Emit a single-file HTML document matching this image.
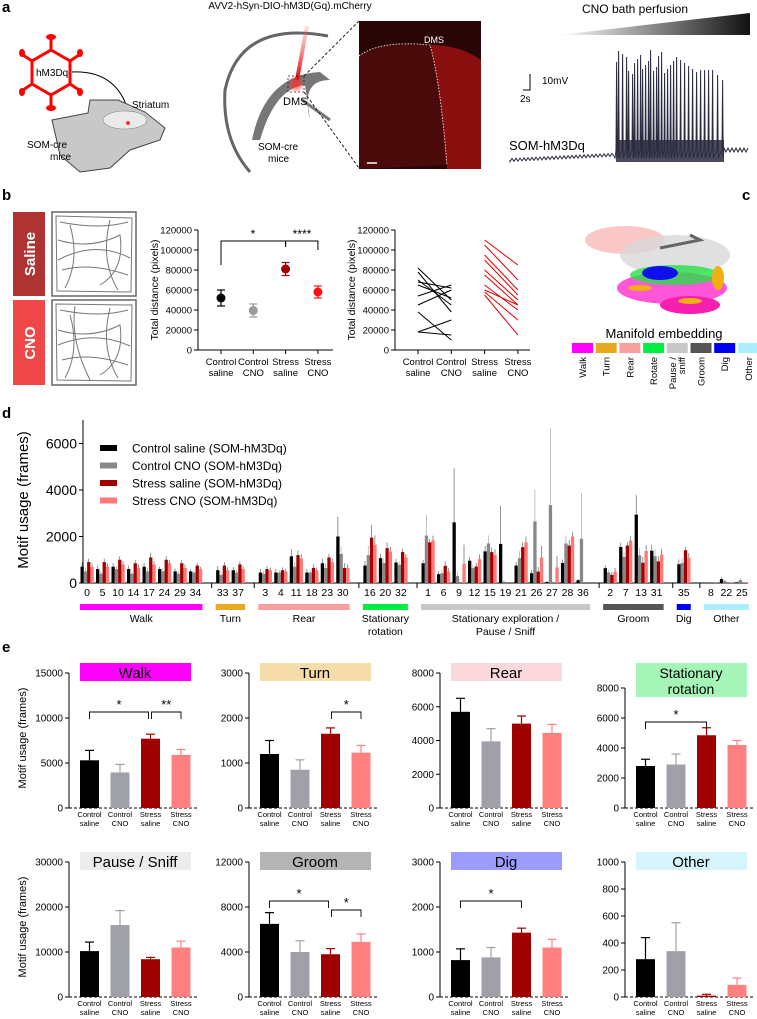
<!DOCTYPE html>
<html><head><meta charset="utf-8"><style>
html,body{margin:0;padding:0;background:#fff}
svg{display:block;font-family:"Liberation Sans",Arial,sans-serif}
</style></head><body>
<svg id="fig" width="757" height="1019" viewBox="0 0 757 1019" xmlns="http://www.w3.org/2000/svg">
<defs>
<linearGradient id="cnoGrad" x1="0" x2="1" y1="0" y2="0"><stop offset="0" stop-color="#fff"/><stop offset="1" stop-color="#111"/></linearGradient>
<radialGradient id="dot" cx="0.5" cy="0.5" r="0.5"><stop offset="0" stop-color="#ff3030"/><stop offset="1" stop-color="#ff3030" stop-opacity="0"/></radialGradient>
<linearGradient id="beam" x1="0" x2="0" y1="0" y2="1"><stop offset="0" stop-color="#ff6060" stop-opacity="0.2"/><stop offset="1" stop-color="#e00000"/></linearGradient>
</defs>
<text x="2" y="12" font-size="15" font-weight="bold">a</text>
<text x="2" y="200" font-size="15" font-weight="bold">b</text>
<text x="742" y="200" font-size="15" font-weight="bold">c</text>
<text x="2" y="418" font-size="15" font-weight="bold">d</text>
<text x="2" y="652" font-size="15" font-weight="bold">e</text>

<g>
  <g stroke="#f00" stroke-width="3" fill="none">
    <polygon points="51,50 70,61 70,84 51,95 32,84 32,61"/>
    <line x1="51" y1="50" x2="51" y2="38"/><line x1="51" y1="95" x2="51" y2="107"/>
    <line x1="70" y1="61" x2="79" y2="55"/><line x1="32" y1="61" x2="23" y2="55"/>
    <line x1="70" y1="84" x2="79" y2="90"/><line x1="32" y1="84" x2="23" y2="90"/>
  </g>
  <g fill="#f00">
    <ellipse cx="51" cy="37" rx="5" ry="3"/><ellipse cx="51" cy="108" rx="5" ry="3"/>
    <ellipse cx="80" cy="53" rx="3" ry="4"/><ellipse cx="22" cy="53" rx="3" ry="4"/>
    <ellipse cx="80" cy="92" rx="3" ry="4"/><ellipse cx="22" cy="92" rx="3" ry="4"/>
  </g>
  <text x="36" y="76" font-size="10">hM3Dq</text>
  <path d="M72,72 Q120,70 130,118" stroke="#000" fill="none" stroke-width="1"/>
  <polygon points="127,114 133,114 130,121" fill="#000"/>
  <path d="M52,120 L88,113 L90,100 L118,100 L145,112 L165,128 L160,140 L130,150 L110,168 L80,172 L60,155 Z" fill="#c8c8c8" stroke="#444" stroke-width="1"/>
  <ellipse cx="125" cy="120" rx="22" ry="9" fill="#eaeaea" stroke="#888" stroke-width="0.6"/>
  <circle cx="128" cy="123" r="2" fill="#f33"/>
  <text x="132" y="108" font-size="10">Striatum</text>
  <text x="27" y="148" font-size="10">SOM-cre</text>
  <text x="50" y="160" font-size="10">mice</text>

  <text x="290" y="9" font-size="10" text-anchor="middle">AVV2-hSyn-DIO-hM3D(Gq).mCherry</text>
  <path d="M328,36 Q240,20 225,90 Q222,140 250,172" stroke="#666" stroke-width="3" fill="none"/>
  <path d="M252,140 Q265,75 320,72 L330,80 Q300,80 310,120 L305,85 Q275,88 260,140 Z" fill="#777"/>
  <path d="M302,100 L330,120" stroke="#777" stroke-width="3"/>
  <line x1="307" y1="26" x2="297" y2="80" stroke="url(#beam)" stroke-width="4"/>
  <circle cx="296" cy="84" r="9" fill="url(#dot)"/>
  <rect x="288" y="76" width="16" height="16" fill="none" stroke="#222" stroke-dasharray="2,2" stroke-width="0.8"/>
  <text x="283" y="105" font-size="11">DMS</text>
  <line x1="304" y1="76" x2="359" y2="21" stroke="#222" stroke-dasharray="3,2"/>
  <line x1="304" y1="92" x2="359" y2="168" stroke="#222" stroke-dasharray="3,2"/>
  <text x="258" y="150" font-size="10">SOM-cre</text>
  <text x="268" y="162" font-size="10">mice</text>
  <g>
    <rect x="359" y="21" width="122" height="148" fill="#2a0505"/>
    <path d="M359,56 Q380,40 430,45 Q440,80 447,165 L359,169 Z" fill="#4a0a0a"/>
    <path d="M430,45 Q460,45 481,60 L481,169 L447,169 Q440,80 430,45 Z" fill="#8a1010"/>
    <path d="M359,56 Q380,40 430,45 Q440,80 447,165" fill="none" stroke="#fff" stroke-dasharray="1.5,1.5" stroke-width="0.8"/>
    <text x="424" y="43" font-size="9" fill="#fff">DMS</text>
    <line x1="367" y1="163" x2="377" y2="163" stroke="#fff" stroke-width="1.5"/>
  </g>
  <text x="635" y="13" font-size="12" text-anchor="middle">CNO bath perfusion</text>
  <polygon points="558,35 750,13 750,35" fill="url(#cnoGrad)"/>
  <path d="M530,74 L530,90 L523,90" stroke="#000" fill="none" stroke-width="1"/>
  <text x="542" y="84" font-size="10">10mV</text>
  <text x="520" y="102" font-size="10">2s</text>
  <text x="509" y="150" font-size="13">SOM-hM3Dq</text>
  <g id="trace"></g>
</g>

<g>
  <rect x="13" y="212" width="32" height="84" fill="#b03333"/>
  <text transform="translate(35,254) rotate(-90)" font-size="15" font-weight="bold" fill="#fff" text-anchor="middle">Saline</text>
  <rect x="13" y="300" width="32" height="85" fill="#f04848"/>
  <text transform="translate(35,343) rotate(-90)" font-size="15" font-weight="bold" fill="#fff" text-anchor="middle">CNO</text>
  <rect x="52" y="212" width="84" height="84" fill="none" stroke="#666" stroke-width="1.5"/>
  <rect x="52" y="300" width="84" height="85" fill="none" stroke="#666" stroke-width="1.5"/>
  <g fill="none" stroke="#777" stroke-width="1">
    <path d="M56,216 L132,218 L131,292 L57,291 Z M60,222 Q100,230 128,222 M58,240 Q90,250 120,235 Q125,270 100,285 M62,270 Q90,262 128,275 M70,225 Q80,260 65,288 M110,220 Q100,260 118,290 M58,260 Q95,240 130,258"/>
    <path d="M56,304 L132,305 L131,381 L57,380 Z M60,310 Q100,318 128,310 M58,330 Q90,340 120,325 Q125,360 100,375 M62,360 Q90,352 128,365 M70,315 Q80,350 65,378 M110,308 Q100,348 118,378 M58,345 Q95,330 130,346 M75,306 Q70,340 90,380"/>
  </g>
  <g id="dotplot"></g>
  <g id="lineplot"></g>
</g>

<g>
  <g>
    <ellipse cx="625" cy="240" rx="40" ry="14" fill="#f8a0a0" opacity="0.6"/>
    <ellipse cx="675" cy="255" rx="55" ry="20" fill="#d8d8d8" opacity="0.8"/>
    <path d="M660,248 L700,240 L690,235" stroke="#666" stroke-width="3" fill="none"/>
    <ellipse cx="672" cy="288" rx="55" ry="16" fill="#ff2bd0" opacity="0.8"/>
    <ellipse cx="690" cy="305" rx="30" ry="9" fill="#f520b0"/>
    <ellipse cx="675" cy="275" rx="45" ry="10" fill="#28e048" opacity="0.8"/>
    <ellipse cx="660" cy="273" rx="18" ry="7" fill="#1010ee"/>
    <ellipse cx="718" cy="278" rx="6" ry="12" fill="#f0b010"/>
    <ellipse cx="640" cy="288" rx="12" ry="3" fill="#f0b010"/>
    <ellipse cx="690" cy="301" rx="12" ry="3" fill="#f0b010"/>
  </g>
  <text x="664" y="338" font-size="13" text-anchor="middle">Manifold embedding</text>
  <g id="clegend"></g>
</g>

<g id="paneld"></g>
<g id="panele"></g>
</svg>
<script>
const bGroups = ["Control saline","Control CNO","Stress saline","Stress CNO"];
const bMeans = [52000, 39500, 81000, 58000];
const bErrs = [8000, 6500, 6500, 6000];
const bTicks = [0,20000,40000,60000,80000,100000,120000];
const pairCtrlStart = [82000,78000,70000,68000,65000,54000,45000,38000,18000,18000];
const pairCtrlEnd   = [50000,38000,45000,62000,52000,65000,60000,10000,30000,15000];
const pairStressStart = [110000,105000,95000,90000,80000,75000,65000,60000,58000,55000];
const pairStressEnd   = [85000,70000,60000,55000,50000,45000,40000,45000,30000,15000];

const cLabels = ["Walk","Turn","Rear","Rotate","Pause / sniff","Groom","Dig","Other"];
const cColors = ["#ff00ff","#e8a820","#f8a0a0","#00ee44","#c8c8c8","#555555","#0000ee","#aaeeff"];

const motifs = ["0","5","10","14","17","24","29","34","33","37","3","4","11","18","23","30","16","20","32","1","6","9","12","15","19","21","26","27","28","36","2","7","13","31","35","8","22","25"];
const motifGroup = [0,0,0,0,0,0,0,0,1,1,2,2,2,2,2,2,3,3,3,4,4,4,4,4,4,4,4,4,4,4,5,5,5,5,6,7,7,7];
const ctrlSaline = [700,600,700,600,700,600,500,500,550,550,450,450,1150,450,850,2000,750,1070,880,850,380,2610,960,1360,1680,750,420,40,860,120,640,1550,2940,1390,810,0,170,30];
const ctrlCNO    = [500,400,600,400,500,500,400,450,350,450,400,450,700,450,650,1250,1200,860,780,2040,420,300,640,1700,60,1070,2650,3350,1700,1900,460,1120,1190,1150,860,0,90,130];
const stressSal  = [900,900,1000,850,1100,1000,850,750,750,800,600,550,1200,650,1100,650,1950,1500,1330,1750,740,0,710,1330,0,1540,490,0,1610,0,350,1610,870,930,1410,0,10,10];
const stressCNO  = [700,700,800,650,800,850,650,600,550,600,550,500,1050,550,900,650,1650,1360,1100,1840,490,830,1030,1200,0,1750,1100,670,2000,0,490,1830,1380,1220,1090,10,20,30];
const errCS = [200,150,150,150,150,100,120,100,180,130,150,150,300,150,200,850,200,180,150,150,120,2330,150,230,1640,150,150,40,150,60,120,180,840,250,200,0,80,30];
const errCC = [150,120,120,120,150,120,100,80,150,120,120,120,200,120,180,300,400,200,150,900,150,200,150,350,50,300,1350,3300,350,1960,100,200,300,300,200,0,50,100];
const errSS = [150,150,150,150,200,150,150,120,150,130,120,120,200,150,150,200,550,250,150,150,200,0,150,200,0,200,200,0,250,0,120,150,250,220,150,0,10,10];
const errSC = [150,150,150,150,150,150,150,100,120,120,120,120,200,120,150,150,400,200,150,200,150,820,200,250,0,250,500,500,200,0,150,200,250,250,200,10,20,20];
const dTicks = [0,2000,4000,6000];
const dGroupNames = [["Walk"],["Turn"],["Rear"],["Stationary","rotation"],["Stationary exploration /","Pause / Sniff"],["Groom"],["Dig"],["Other"]];
const dGroupColors = ["#ff00ff","#e8a820","#f8a0a0","#00ee44","#c8c8c8","#555555","#0000ee","#aaeeff"];
const dLegend = ["Control saline (SOM-hM3Dq)","Control CNO (SOM-hM3Dq)","Stress saline (SOM-hM3Dq)","Stress CNO (SOM-hM3Dq)"];

const eTitles = ["Walk","Turn","Rear","Stationary rotation","Pause / Sniff","Groom","Dig","Other"];
const eTitleColors = ["#ff00ff","#f5dca8","#fbd8dc","#a6f5b8","#ececec","#b4b4b4","#9c9cff","#d6f4fb"];
const eMax = [15000,3000,8000,9000,30000,12000,3000,1000];
const eTicks = [[0,5000,10000,15000],[0,1000,2000,3000],[0,2000,4000,6000,8000],[0,2000,4000,6000,8000],[0,10000,20000,30000],[0,4000,8000,12000],[0,1000,2000,3000],[0,200,400,600,800,1000]];
const eCS = [5300,1200,5700,2800,10200,6500,820,280];
const eCC = [3950,850,3950,2900,16000,4000,880,340];
const eSS = [7700,1650,5000,4850,8400,3800,1430,10];
const eSC = [5900,1230,4450,4200,11000,4900,1100,90];
const eErrCS = [1100,300,800,450,2000,1000,250,160];
const eErrCC = [900,220,750,700,3200,1000,220,210];
const eErrSS = [500,130,450,500,400,500,100,10];
const eErrSC = [600,160,500,300,1400,700,180,50];
const eSig = [[0,0,2,"*",0],[0,2,3,"**",0],[1,2,3,"*",0],[3,0,2,"*",1],[5,0,2,"*",0],[5,2,3,"*",1],[6,0,2,"*",0]];

const NS = "http://www.w3.org/2000/svg";
function mk(parent, tag, attrs, text){
  const e = document.createElementNS(NS, tag);
  for (const k in attrs) e.setAttribute(k, attrs[k]);
  if (text !== undefined) e.textContent = text;
  parent.appendChild(e); return e;
}
const fmt = v => String(v);

(function(){
  const g = document.getElementById('trace');
  let d = "M510,160";
  for (let x=510; x<=615; x+=2) d += " L"+x+","+(160 - (x-510)*0.05 + ((x/2)%2?1.5:-1.5));
  d += " L615,158";
  const spikes = [616,618,622,626,628,632,634,637,640,642,645,648,650,653,656,658,661,664,667,670,673,676,680,684,688,692,696,700,704,708,712,717,722];
  for (const s of spikes){ d += " L"+s+",150 L"+(s+0.6)+","+(s<700?50+((s*7)%25):70+((s*5)%20))+" L"+(s+1.2)+",158"; }
  for (let x=724; x<=748; x+=2) d += " L"+x+","+(150 + ((x/2)%2?2:-2));
  const p = mk(g,'path',{d:d, fill:'none', stroke:'#2a2a40', 'stroke-width':1});
  
  
  mk(g,'rect',{x:616,y:140,width:108,height:22,fill:'#2a2a40',opacity:0.85});
})();

function yB(v){ return 350 - v/120000*120; }
function drawBAxes(g, ax, xs){
  mk(g,'line',{x1:ax,y1:230,x2:ax,y2:350,stroke:'#000','stroke-width':1});
  mk(g,'line',{x1:ax,y1:350,x2:ax+135,y2:350,stroke:'#000','stroke-width':1});
  for (const t of bTicks){
    mk(g,'line',{x1:ax-4,y1:yB(t),x2:ax,y2:yB(t),stroke:'#000'});
    const tl = mk(g,'text',{x:ax-6,y:yB(t)+3.5,'font-size':9.5,'text-anchor':'end'}, fmt(t));
    
    
  }
  const yt = mk(g,'text',{transform:`translate(${ax-40},290) rotate(-90)`,'font-size':10.5,'text-anchor':'middle'},'Total distance (pixels)');
  
  
  bGroups.forEach((n,i)=>{
    const parts = n.split(' ');
    mk(g,'line',{x1:xs(i),y1:350,x2:xs(i),y2:354,stroke:'#000'});
    const l1 = mk(g,'text',{x:xs(i),y:365,'font-size':9.5,'text-anchor':'middle'},parts[0]);
    
    
    mk(g,'text',{x:xs(i),y:376,'font-size':9.5,'text-anchor':'middle'},parts[1]);
  });
}
(function(){
  const g = document.getElementById('dotplot');
  const xs = i => 221 + i*32.3;
  drawBAxes(g, 198, xs);
  const cols = ['#000','#999','#a00000','#ff1010'];
  bMeans.forEach((m,i)=>{
    const x = xs(i);
    mk(g,'line',{x1:x,y1:yB(m+bErrs[i]),x2:x,y2:yB(m-bErrs[i]),stroke:cols[i],'stroke-width':1.2});
    mk(g,'line',{x1:x-4,y1:yB(m+bErrs[i]),x2:x+4,y2:yB(m+bErrs[i]),stroke:cols[i],'stroke-width':1.2});
    mk(g,'line',{x1:x-4,y1:yB(m-bErrs[i]),x2:x+4,y2:yB(m-bErrs[i]),stroke:cols[i],'stroke-width':1.2});
    const c = mk(g,'circle',{cx:x,cy:yB(m),r:4.5,fill:cols[i]});
    
    
  });
  mk(g,'path',{d:`M${xs(0)},265 L${xs(0)},241 L${xs(2)},241 L${xs(2)},247`,fill:'none',stroke:'#000'});
  mk(g,'path',{d:`M${xs(2)},247 L${xs(2)},241 L${xs(3)},241 L${xs(3)},250`,fill:'none',stroke:'#000'});
  mk(g,'text',{x:253,y:238,'font-size':12,'text-anchor':'middle'},'*');
  mk(g,'text',{x:302,y:238,'font-size':12,'text-anchor':'middle'},'****');
})();
(function(){
  const g = document.getElementById('lineplot');
  const xs = i => 418 + i*33.3;
  drawBAxes(g, 395, xs);
  pairCtrlStart.forEach((v,i)=>{
    const l = mk(g,'line',{x1:xs(0),y1:yB(v),x2:xs(1),y2:yB(pairCtrlEnd[i]),stroke:'#000','stroke-width':1});
    
    
  });
  pairStressStart.forEach((v,i)=>{
    const l = mk(g,'line',{x1:xs(2),y1:yB(v),x2:xs(3),y2:yB(pairStressEnd[i]),stroke:'#e00000','stroke-width':1});
    
    
  });
})();

(function(){
  const g = document.getElementById('clegend');
  cLabels.forEach((n,i)=>{
    const x = 572 + i*23.7;
    const r = mk(g,'rect',{x:x,y:343,width:21,height:10,fill:cColors[i]});
    
    
    const parts = n.split(' / ');
    if (parts.length>1){
      mk(g,'text',{transform:`translate(${x+9},357) rotate(-90)`,'font-size':9.5,'text-anchor':'end'},parts[0]+' /');
      mk(g,'text',{transform:`translate(${x+18},357) rotate(-90)`,'font-size':9.5,'text-anchor':'end'},parts[1]);
    } else {
      const t = mk(g,'text',{transform:`translate(${x+14},357) rotate(-90)`,'font-size':9.5,'text-anchor':'end'},n);
      
      
    }
  });
})();

(function(){
  const g = document.getElementById('paneld');
  const y0 = 583, pxPer = 46.5/2000;
  const yD = v => y0 - v*pxPer;
  const slot = i => i + motifGroup[i]*0.75;
  const xD = i => 87 + slot(i)*15.5;
  const cols = ['#000','#888','#a00000','#ff7878'];
  const series = [ctrlSaline, ctrlCNO, stressSal, stressCNO];
  const errs = [errCS, errCC, errSS, errSC];
  mk(g,'line',{x1:83,y1:420,x2:83,y2:y0,stroke:'#000','stroke-width':1});
  mk(g,'line',{x1:83,y1:y0,x2:748,y2:y0,stroke:'#000','stroke-width':1});
  for (const t of dTicks){
    mk(g,'line',{x1:79,y1:yD(t),x2:83,y2:yD(t),stroke:'#000'});
    const tl = mk(g,'text',{x:77,y:yD(t)+5,'font-size':14,'text-anchor':'end'},fmt(t));
    
    
  }
  const yt = mk(g,'text',{transform:'translate(28,500) rotate(-90)','font-size':15,'text-anchor':'middle'},'Motif usage (frames)');
  
  
  motifs.forEach((m,i)=>{
    const cx = xD(i);
    series.forEach((s,k)=>{
      const x = cx - 6.5 + k*3.3;
      const v = s[i], e = errs[k][i];
      if (e>0) mk(g,'line',{x1:x+1.6,y1:yD(v),x2:x+1.6,y2:yD(v+e),stroke:k===1?'#aaa':'#666','stroke-width':0.7});
      const r = mk(g,'rect',{x:x,y:yD(v),width:3.3,height:Math.max(0,v*pxPer),fill:cols[k]});
      
      
    });
    const tl = mk(g,'text',{x:cx,y:596,'font-size':10.5,'text-anchor':'middle'},m);
    
    
  });
  for (let gi=0; gi<dGroupNames.length; gi++){
    const idx = motifGroup.map((v,i)=>v===gi?i:-1).filter(i=>i>=0);
    const a = xD(idx[0]) - 7, b = xD(idx[idx.length-1]) + 7;
    if (gi>0) mk(g,'line',{x1:a-4,y1:y0,x2:a-4,y2:y0+5,stroke:'#000'});
    const r = mk(g,'rect',{x:a,y:604,width:b-a,height:6,fill:dGroupColors[gi]});
    
    
    dGroupNames[gi].forEach((ln,li)=>{
      const t = mk(g,'text',{x:(a+b)/2,y:622+li*13,'font-size':10.5,'text-anchor':'middle'},ln);
      
      
    });
  }
  dLegend.forEach((n,k)=>{
    const y = 448 + k*17.5;
    const r = mk(g,'rect',{x:100,y:y-3,width:17,height:6,fill:cols[k]});
    
    
    const t = mk(g,'text',{x:132,y:y+4.5,'font-size':12},n);
    
    
  });
})();

(function(){
  const g = document.getElementById('panele');
  const axX = [69,249,440,625];
  const rowZero = [808,997];
  const H = 135;
  const cols = ['#000','#a0a0a8','#a00000','#ff8080'];
  const series = [eCS,eCC,eSS,eSC];
  const errs = [eErrCS,eErrCC,eErrSS,eErrSC];
  const lbl = [["Control","saline"],["Control","CNO"],["Stress","saline"],["Stress","CNO"]];
  eTitles.forEach((title,p)=>{
    const ax = axX[p%4], z = rowZero[Math.floor(p/4)];
    const yE = v => z - v/eMax[p]*H;
    const sub = mk(g,'g',{});
    
    
    mk(sub,'line',{x1:ax,y1:yE(eTicks[p][eTicks[p].length-1]),x2:ax,y2:z,stroke:'#000','stroke-width':1});
    mk(sub,'line',{x1:ax,y1:z,x2:ax+128,y2:z,stroke:'#000','stroke-width':1,'stroke-dasharray':'3,2'});
    eTicks[p].forEach(t=>{
      mk(sub,'line',{x1:ax-4,y1:yE(t),x2:ax,y2:yE(t),stroke:'#000'});
      const tl = mk(sub,'text',{x:ax-6,y:yE(t)+3.5,'font-size':10,'text-anchor':'end'},fmt(t));
      
      
    });
    series.forEach((s,k)=>{
      const x = ax + 11 + k*30.5;
      const v = s[p], e = errs[k][p];
      mk(sub,'line',{x1:x+9.5,y1:yE(v),x2:x+9.5,y2:yE(v+e),stroke:cols[k],'stroke-width':1.2});
      mk(sub,'line',{x1:x+5,y1:yE(v+e),x2:x+14,y2:yE(v+e),stroke:cols[k],'stroke-width':1.2});
      const r = mk(sub,'rect',{x:x,y:yE(v),width:19,height:v/eMax[p]*H,fill:cols[k]});
      
      
      mk(sub,'text',{x:x+9.5,y:z+9,'font-size':7.5,'text-anchor':'middle'},lbl[k][0]);
      mk(sub,'text',{x:x+9.5,y:z+18,'font-size':7.5,'text-anchor':'middle'},lbl[k][1]);
    });
    const twoLine = title === "Stationary rotation";
    const by = z - 145;
    const tb = mk(sub,'rect',{x:ax+11,y:by,width:111,height:twoLine?34:18,fill:eTitleColors[p]});
    
    
    if (twoLine){
      mk(sub,'text',{x:ax+66,y:by+15,'font-size':14,'text-anchor':'middle'},'Stationary');
      mk(sub,'text',{x:ax+66,y:by+31,'font-size':14,'text-anchor':'middle'},'rotation');
    } else {
      const t = mk(sub,'text',{x:ax+66,y:by+15,'font-size':15,'text-anchor':'middle'},title);
      
      
    }
    if (p%4===0){
      const yt = mk(sub,'text',{transform:`translate(26,${z-70}) rotate(-90)`,'font-size':11,'text-anchor':'middle'},'Motif usage (frames)');
      
      
    }
  });
  eSig.forEach(s=>{
    const [p,a,b,txt,lev] = s;
    const ax = axX[p%4], z = rowZero[Math.floor(p/4)];
    const y = z - 96 + (p===3?10:0) + lev*(p===5?9:0);
    const xa = ax + 20.5 + a*30.5 + (a===2&&b===3?1:0), xb = ax + 20.5 + b*30.5 - (a===0&&b===2&&eSig.some(q=>q[0]===p&&q[1]===2)?2:0);
    const br = mk(g,'path',{d:`M${xa},${y+7} L${xa},${y} L${xb},${y} L${xb},${y+7}`,fill:'none',stroke:'#000','stroke-width':0.9});
    
    
    mk(g,'text',{x:(xa+xb)/2,y:y-3,'font-size':13,'text-anchor':'middle'},txt);
  });
})();
</script>
</body></html>
